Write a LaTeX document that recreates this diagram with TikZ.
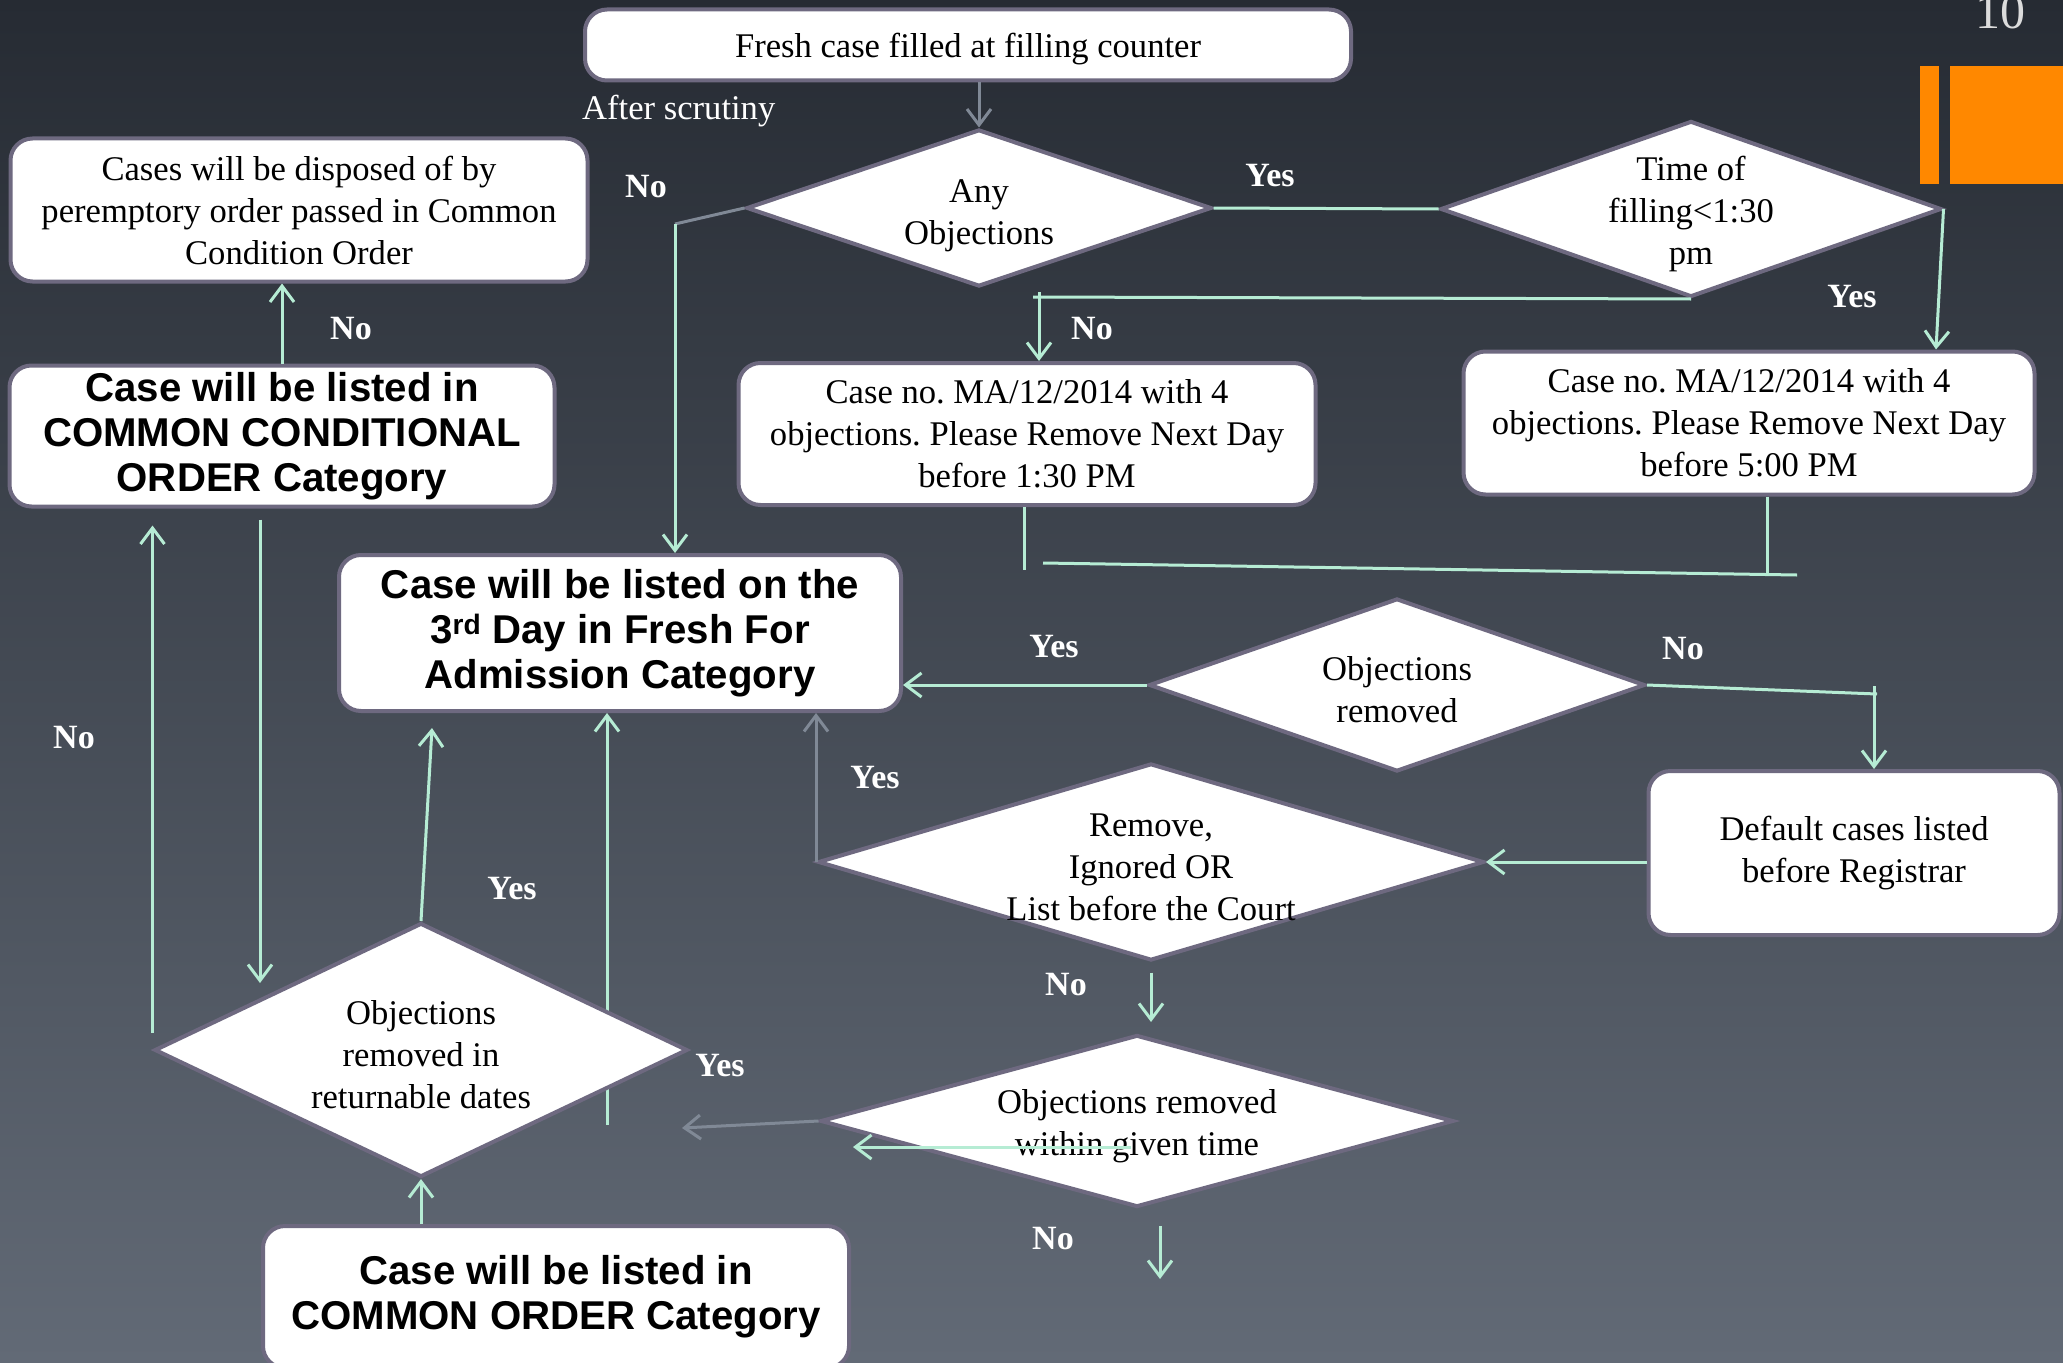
\documentclass[tikz,border=0pt]{standalone}
\usepackage{fontspec}
\setmainfont{Liberation Serif}
\newfontfamily\slidesans{Liberation Sans}
\usetikzlibrary{shapes.geometric, arrows.meta}
\frenchspacing

\definecolor{bgtop}{RGB}{38,43,51}
\definecolor{bgbot}{RGB}{98,106,118}
\definecolor{boxline}{RGB}{110,105,128}
\definecolor{mint}{RGB}{182,236,212}
\definecolor{greylink}{RGB}{128,137,150}
\definecolor{slideorange}{RGB}{255,136,0}
\definecolor{pagegrey}{RGB}{220,220,220}

\begin{document}
\begin{tikzpicture}[x=1pt, y=-1pt]
  \tikzset{
    box/.style={draw=boxline, line width=4pt, fill=white, rounded corners=22pt, align=center, inner sep=0pt, font=\fontsize{34.6}{42}\selectfont},
    catbox/.style={box, font=\slidesans\bfseries\fontsize{40.2}{45}\selectfont},
    dec/.style={diamond, draw=boxline, line width=4pt, fill=white, inner sep=0pt},
    dectext/.style={align=center, inner sep=0pt, yshift=-5pt, font=\fontsize{34.6}{42}\selectfont},
    lbl/.style={text=white, inner sep=0pt, font=\bfseries\fontsize{34}{40}\selectfont},
    link/.style={draw=mint, line width=3pt},
    linkarrow/.style={link, -{Straight Barb[length=16pt, width=24pt]}},
    greyline/.style={draw=greylink, line width=3pt},
    greyarrow/.style={greyline, -{Straight Barb[length=16pt, width=24pt]}}
  }

  % Slide background
  \useasboundingbox (0,0) rectangle (2063,1362);
  \shade[top color=bgtop, bottom color=bgbot] (0,0) rectangle (2063,1362);
  \fill[slideorange] (1920,66) rectangle (1939,184);
  \fill[slideorange] (1950,66) rectangle (2063,184);
  \node[text=pagegrey, anchor=base, inner sep=0pt, font=\fontsize{50}{50}\selectfont] (slideno) at (2000,29) {10};

  % Boxes
  \node[box, minimum width=766pt, minimum height=71pt, text depth=0pt] (fresh) at (968,45) {Fresh case filled at filling counter};
  \node[box, minimum width=577pt, minimum height=143pt] (disposed) at (299,210) {Cases will be disposed of by\\peremptory order passed in Common\\Condition Order};
  \node[catbox, minimum width=545pt, minimum height=141pt] (ccond) at (282,436) {Case will be listed in\\COMMON CONDITIONAL\\ORDER Category};
  \node[box, minimum width=577pt, minimum height=142pt] (box130) at (1027,434) {Case no. MA/12/2014 with 4\\objections. Please Remove Next Day\\before 1:30 PM};
  \node[box, minimum width=571pt, minimum height=143pt] (box5pm) at (1749,423) {Case no. MA/12/2014 with 4\\objections. Please Remove Next Day\\before 5:00 PM};
  \node[catbox, minimum width=562pt, minimum height=156pt] (box3rd) at (620,633) {Case will be listed on the\\3\textsuperscript{rd} Day in Fresh For\\Admission Category};
  \node[box, minimum width=411pt, minimum height=164pt] (default) at (1854,853) {Default cases listed\\before Registrar};
  \node[catbox, minimum width=586pt, minimum height=142pt, anchor=north] (common) at (556,1224) {Case will be listed in\\COMMON ORDER Category};

  % Line running behind the returnable diamond
  \coordinate (yesB) at (607,1125);
  \draw[linkarrow] (yesB) -- (yesB |- box3rd.south);

  % Decisions
  \node[dec, minimum width=465pt, minimum height=157pt, label={[dectext, yshift=-3pt]center:{Any\\Objections}}] (anyobj) at (979,208) {};
  \node[dec, minimum width=501pt, minimum height=176pt, label={[dectext]center:{Time of\\filling<1:30\\pm}}] (timefill) at (1691,209) {};
  \node[dec, minimum width=496pt, minimum height=173pt, label={[dectext]center:{Objections\\removed}}] (objrem) at (1397,685) {};
  \node[dec, minimum width=666pt, minimum height=197pt, label={[dectext]center:{Remove,\\Ignored OR\\List before the Court}}] (remove) at (1151,862) {};
  \node[dec, minimum width=633pt, minimum height=172pt, label={[dectext]center:{Objections removed\\within given time}}] (within) at (1137,1121) {};
  \node[dec, minimum width=533pt, minimum height=254pt, label={[dectext]center:{Objections\\removed in\\returnable dates}}] (returnable) at (421,1050) {};

  % Labels
  \node[text=white, inner sep=0pt, anchor=west, font=\fontsize{34.6}{42}\selectfont] (scrutiny) at (582,111) {After scrutiny};
  \node[lbl] (noany) at (646,187) {No};
  \node[lbl] (yesany) at (1270,176) {Yes};
  \node[lbl] (yestime) at (1852,297) {Yes};
  \node[lbl] (notime) at (1092,329) {No};
  \node[lbl] (nocc) at (351,329) {No};
  \node[lbl] (yesrem) at (1054,647) {Yes};
  \node[lbl] (norem) at (1683,649) {No};
  \node[lbl] (yesreg) at (875,778) {Yes};
  \node[lbl] (noret) at (74,738) {No};
  \node[lbl] (noreg) at (1066,985) {No};
  \node[lbl] (yesret) at (512,889) {Yes};
  \node[lbl] (yesret2) at (720,1066) {Yes};
  \node[lbl] (nowithin) at (1053,1239) {No};

  % Connectors
  \coordinate (nobend) at (1039,297);
  \coordinate (nocorner) at (675,224);
  \coordinate (nocorner2) at (1874,694);
  \coordinate (yesdrop) at (1936,211);
  \coordinate (joinL) at (1024,570);
  \coordinate (joinA) at (1043,563);
  \coordinate (joinB) at (1797,575);
  \coordinate (joinR) at (1767,576);
  \coordinate (lostA) at (682,1128);
  \coordinate (crossA) at (1131,1147);
  \coordinate (crossB) at (853,1147);
  \coordinate (dropA) at (1160,1279);
  \coordinate (yesA) at (432,728);
  \coordinate (ccdown) at (260,983);

  \draw[greyarrow] (fresh.south -| anyobj.north) -- (anyobj.north);
  \draw[link] (anyobj.east) -- (timefill.west);
  \draw[linkarrow] (timefill.east) -- (yesdrop |- box5pm.north);
  \draw[link] (timefill.south) -- ([xshift=-6pt]nobend);
  \draw[linkarrow] ([yshift=5pt]nobend) -- (nobend |- box130.north);
  \draw[link] (box130.south -| joinL) -- (joinL);
  \draw[link] (joinA) -- (joinB);
  \draw[link] (box5pm.south -| joinR) -- (joinR);
  \draw[greyline] (anyobj.west) -- (nocorner);
  \draw[linkarrow] (nocorner) -- (nocorner |- box3rd.north);
  \draw[linkarrow] (ccond.north) -- (ccond.north |- disposed.south);
  \draw[linkarrow] (objrem.west) -- (objrem.west -| box3rd.east);
  \draw[link] (objrem.east) -- ([xshift=3pt]nocorner2);
  \draw[linkarrow] ([yshift=8pt]nocorner2) -- (nocorner2 |- default.north);
  \draw[linkarrow] (default.west |- remove.east) -- (remove.east);
  \draw[greyarrow] (remove.west) -- (remove.west |- box3rd.south);
  \draw[linkarrow, shorten <=10pt, shorten >=11pt] (remove.south) -- (remove.south |- within.north);
  \draw[greyarrow] (within.west) -- (lostA);
  \draw[linkarrow] (crossA) -- (crossB);
  \draw[linkarrow, shorten <=17pt] (within.south -| dropA) -- (dropA);
  \draw[linkarrow] (returnable.north) -- (yesA);
  \draw[linkarrow, shorten <=11pt] (ccdown |- ccond.south) -- (ccdown);
  \draw[linkarrow, shorten <=17pt, shorten >=17pt] (returnable.west) -- (returnable.west |- ccond.south);
  \draw[linkarrow] (returnable.south |- common.north) -- (returnable.south);
\end{tikzpicture}
\end{document}
